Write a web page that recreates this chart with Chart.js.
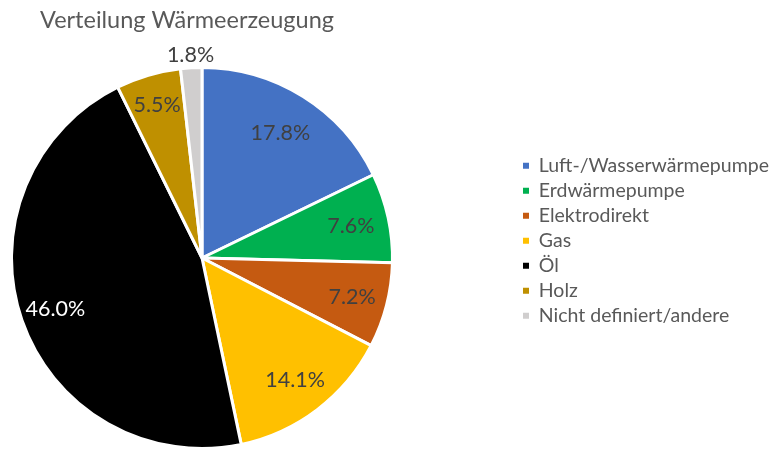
<!DOCTYPE html>
<html>
<head>
<meta charset="utf-8">
<script src="https://cdn.jsdelivr.net/npm/chart.js@4/dist/chart.umd.min.js"></script>
<style>
    body { margin: 0; background: #fff; }
</style>
</head>
<body>
<canvas id="grafica" width="773" height="450"></canvas>
<script>
const labels = ['Luft-/Wasserwärmepumpe', 'Erdwärmepumpe', 'Elektrodirekt', 'Gas', 'Öl', 'Holz', 'Nicht definiert/andere'];
const shares = [17.8, 7.6, 7.2, 14.1, 46.0, 5.5, 1.8];
const colors = ['#4472C4', '#00B050', '#C55A11', '#FFC000', '#000000', '#BF9000', '#D0CECE'];

// "best fit" radius of each percentage label, as a fraction of the outer radius
const labelRadius = [0.775, 0.80, 0.814, 0.807, 0.814, 0.835, 1.068];

const pctLabels = {
    id: 'pctLabels',
    afterDatasetsDraw(chart) {
        const ctx = chart.ctx;
        const arcs = chart.getDatasetMeta(0).data;
        ctx.save();
        ctx.font = '21.5px Lato';
        ctx.textAlign = 'center';
        ctx.textBaseline = 'middle';
        arcs.forEach((arc, i) => {
            const p = arc.getProps(['x', 'y', 'startAngle', 'endAngle', 'outerRadius'], true);
            const mid = (p.startAngle + p.endAngle) / 2;
            const r = p.outerRadius * labelRadius[i];
            ctx.fillStyle = colors[i] === '#000000' ? '#ffffff' : '#404040';
            ctx.fillText(shares[i].toFixed(1) + '%', p.x + Math.cos(mid) * r, p.y + Math.sin(mid) * r);
        });
        ctx.restore();
    }
};

// keep the pie on the left, legend block further right like the Excel original
const placeBoxes = {
    id: 'placeBoxes',
    afterInit(chart) {
        const legend = chart.legend;
        const fit = legend.fit;
        legend.fit = function () {
            fit.call(this);
            this.width = chart.width - 394;
        };
    },
    afterLayout(chart) {
        chart.titleBlock.left = 40;
        chart.legend.left = 517.5;
        chart.legend.top = 150.5;
    }
};

Chart.defaults.font.family = 'Lato';

const data = {
    labels: labels,
    datasets: [{
        data: shares,
        backgroundColor: colors,
        borderColor: '#ffffff',
        borderWidth: 3
    }]
};

const myChart = new Chart(document.getElementById('grafica'), {
    type: 'pie',
    data: data,
    options: {
        responsive: false,
        animation: false,
        layout: {padding: {left: 10, top: 0, right: 0, bottom: 0}},
        plugins: {
            title: {
                display: true,
                text: 'Verteilung Wärmeerzeugung',
                align: 'start',
                color: '#595959',
                font: {size: 23.5, weight: 'normal'},
                padding: {top: 5.9, bottom: 31.9}
            },
            legend: {
                position: 'right',
                align: 'start',
                fullSize: false,
                labels: {
                    color: '#595959',
                    font: {size: 19.5},
                    boxWidth: 6,
                    boxHeight: 6,
                    padding: 5.5,
                    generateLabels(chart) {
                        return Chart.overrides.pie.plugins.legend.labels.generateLabels(chart)
                            .map(l => Object.assign(l, {lineWidth: 0}));
                    }
                }
            },
            tooltip: {enabled: false}
        }
    },
    plugins: [pctLabels, placeBoxes]
});
</script>
</body>
</html>
